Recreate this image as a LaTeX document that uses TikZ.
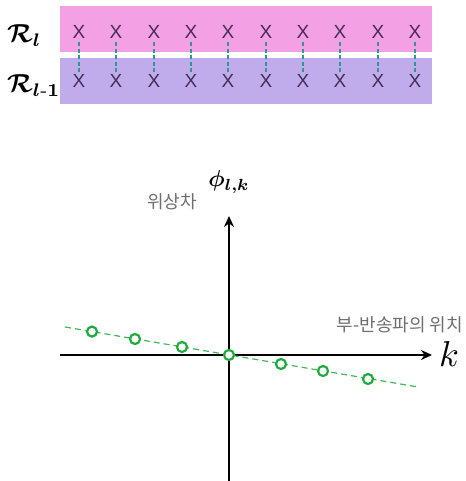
\documentclass[tikz,border=0pt]{standalone}
\usepackage{amsmath,bm}
\usepackage{graphicx}
\usepackage{fontspec}
\setsansfont{Liberation Sans}
\newfontfamily\kr{Noto Sans CJK KR}
\usetikzlibrary{arrows.meta}
\definecolor{pinkband}{RGB}{243,160,228}
\definecolor{purpband}{RGB}{192,172,235}
\definecolor{xmark}{RGB}{70,45,85}
\definecolor{tealdash}{RGB}{50,150,150}
\definecolor{greenpt}{RGB}{30,170,60}
\definecolor{krgray}{RGB}{110,110,110}
\tikzset{
  xm/.style={font=\sffamily\fontsize{19}{19}\selectfont, text=xmark, inner sep=0pt},
  link/.style={tealdash, line width=1.6pt, dash pattern=on 4pt off 2.5pt},
  axis/.style={line width=2.2pt, -{Stealth[length=11pt,width=10pt]}},
  pt/.style={circle, draw=greenpt, line width=2.2pt, fill=white, minimum size=10pt, inner sep=0pt},
  fitline/.style={greenpt!85, line width=1.2pt, dash pattern=on 6pt off 4pt},
  krlabel/.style={font=\kr\fontsize{18}{18}\selectfont, text=krgray, inner sep=0pt},
  rlab/.style={inner sep=0pt}
}
\begin{document}
\begin{tikzpicture}[x=1pt,y=-1pt]
\useasboundingbox (0,0) rectangle (465,481);
\fill[pinkband] (60,6) rectangle (432,52);
\fill[purpband] (60,58) rectangle (432,104);
\node[rlab, anchor=west] (rl) at (7,36) {\scalebox{2.6}{$\bm{\mathcal{R}}_{\bm{l}}$}};
\node[rlab, anchor=west] (rl1) at (7,86) {\scalebox{2.6}{$\bm{\mathcal{R}}_{\bm{l\text{-}1}}$}};
\foreach \xx [count=\i] in {79,116,154,191,228,266,303,340,378,415} {
  \node[xm] (t\i) at (\xx,32) {X};
  \node[xm] (b\i) at (\xx,81) {X};
  \draw[link] ([yshift=2pt]b\i.north) -- ([yshift=-2pt]t\i.south);
}
% axes
\coordinate (yb) at (229,481);
\coordinate (yt) at (229,216);
\coordinate (xl) at (60,355);
\coordinate (xr) at (432,355);
\draw[axis] (yb) -- (yt);
\draw[axis] (xl) -- (xr);
\node[inner sep=0pt] (k) at (449,354) {\scalebox{3.6}{$k$}};
\node[inner sep=0pt] (phi) at (229,182) {\scalebox{2.3}{$\bm{\phi}_{\bm{l,k}}$}};
\node[krlabel] (wsc) at (172,202) {위상차};
\node[krlabel] (pos) at (400,325) {부-반송파의 위치};
% fit line and points
\coordinate (f1) at (65,327);
\coordinate (f2) at (418,387);
\draw[fitline] (f1) -- (f2);
\foreach \x/\y [count=\n] in {92/331.6,135/339,182/347,229/355,281/364,323/371,368/379} {
  \node[pt] (p\n) at (\x,\y) {};
}
\end{tikzpicture}
\end{document}
